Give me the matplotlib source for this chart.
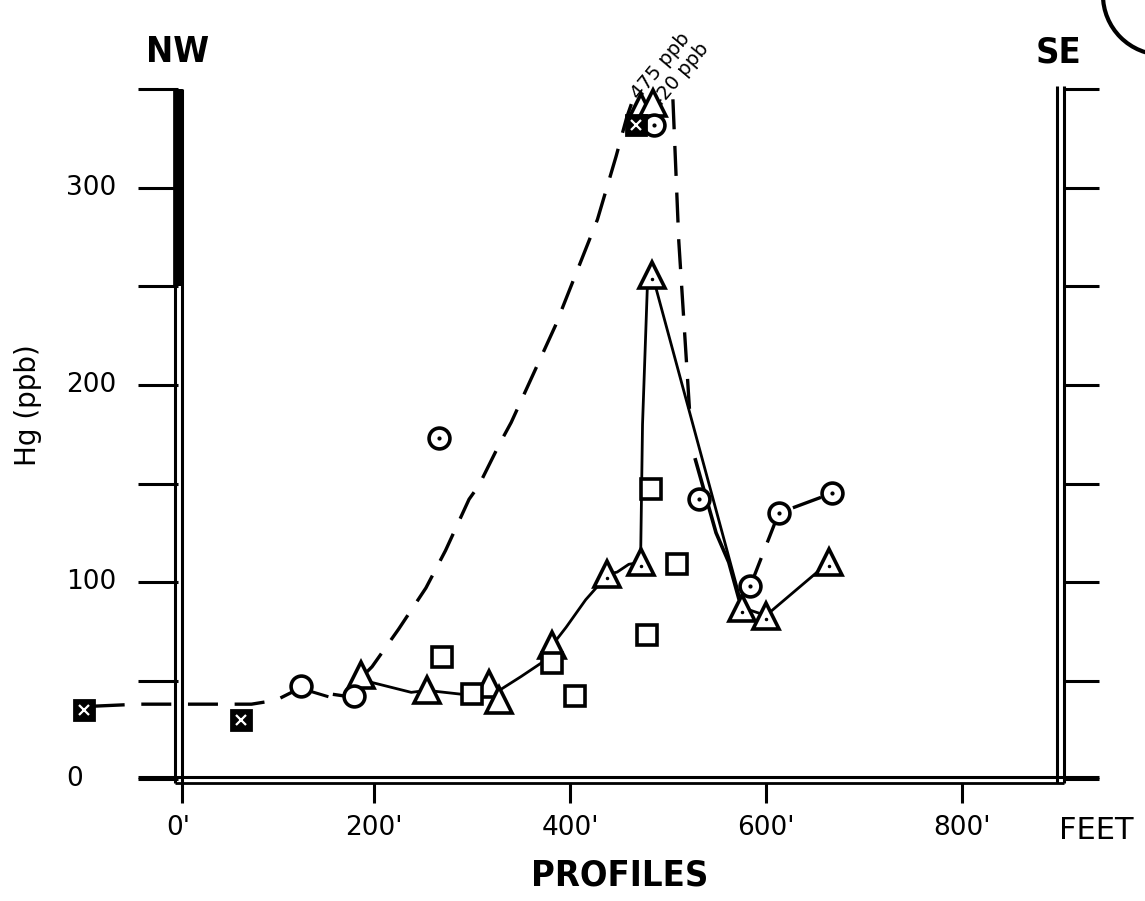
import numpy as np
import matplotlib.pyplot as plt
from matplotlib.patches import Ellipse

# ---- data (x in feet along profile, y in Hg ppb) ----
tri_x = [187, 254, 317, 328, 382, 438, 472, 484, 576, 600, 664]
tri_y = [53, 45, 48, 40, 68, 104, 110, 256, 87, 83, 110]
tri_dot = [False, False, False, False, False, True, True, True, True, True, True]
tri_top_x = [472, 485]          # off-scale (475 / 420 ppb) drawn at the top
tri_top_y = [341, 343]

sq_x = [269, 300, 382, 405, 479, 483, 509]
sq_y = [62, 43, 59, 42, 73, 147, 109]

dotc_x = [266, 486, 532, 584, 613, 667]
dotc_y = [173, 332, 142, 98, 135, 145]

openc_x = [126, 180]
openc_y = [47, 42]

xsq_x = [-96, 64, 467]
xsq_y = [35, 30, 332]

# solid triangle profile
tri_line1_x = [190, 238, 254, 290]
tri_line1_y = [50, 44, 45, 43]
tri_line2_x = [331, 350, 371, 382, 396, 416, 432, 438, 448, 460, 472, 474, 479, 484, 576, 600, 664]
tri_line2_y = [46, 52, 59, 68, 77, 91, 100, 104, 105, 109, 110, 180, 251, 256, 87, 83, 110]

# dashed trend (left part and big rise to the peak)
dash1_x = [-85, -40, 0, 40, 75, 100, 120]
dash1_y = [37, 38, 38, 38, 38, 40, 45]
dash2_x = [188, 198, 225, 253, 273, 297, 307, 328, 340, 385, 428, 447, 458, 465]
dash2_y = [52, 57, 76, 97, 116, 142, 149, 170, 181, 230, 284, 316, 336, 346]
dash3_x = [505, 511, 522]
dash3_y = [345, 273, 187]

# circle series after the peak
circ_solid_x = [528, 549, 562, 572]
circ_solid_y = [162, 125, 110, 92]
circ_dash_x = [584, 613, 667]
circ_dash_y = [98, 135, 145]
tail_x = [132, 152]
tail_y = [45, 42]
tail2_x = [158, 172]
tail2_y = [43, 42]

yticks = [0, 50, 100, 150, 200, 250, 300, 350]
ylabels = ['0', '100', '200', '300']
ylabel_vals = [0, 100, 200, 300]
xticks = [0, 200, 400, 600, 800]
xlabels = ["0'", "200'", "400'", "600'", "800'"]

# ---- figure: one axes over the whole page, hand-drawn frame ----
fig = plt.figure(figsize=(11.45, 9.01), dpi=100)
ax = fig.add_axes([0, 0, 1, 1])
ax.set_xlim(-181.6, 986.7)
ax.set_ylim(-61.9, 395.4)
ax.axis('off')

k = 'black'
# frame (double lines like the original drafting)
ax.plot([-3, -3], [-2, 350], color=k, lw=2.2, solid_capstyle='butt')
ax.plot([4, 4], [-12, 350], color=k, lw=2.2, solid_capstyle='butt')
ax.plot([0.5, 0.5], [250, 350], color=k, lw=7, solid_capstyle='butt')
ax.plot([897, 897], [-2, 352], color=k, lw=2.2, solid_capstyle='butt')
ax.plot([904, 904], [-2, 352], color=k, lw=2.2, solid_capstyle='butt')
ax.plot([-41, 940], [1, 1], color=k, lw=2.2, solid_capstyle='butt')
ax.plot([-3, 904], [-2, -2], color=k, lw=2, solid_capstyle='butt')
ax.hlines(yticks, -41, 0, color=k, lw=2.2)
ax.hlines(yticks, 904, 940, color=k, lw=2.2)
ax.vlines(xticks[1:], -12, -2, color=k, lw=2.2)

for v, t in zip(ylabel_vals, ylabels):
    xx = -105 if t == '0' else -89
    ax.text(xx, v, t, fontsize=19, ha='center', va='center')
for v, t in zip(xticks, xlabels):
    ax.text(v, -25, t, fontsize=19, ha='center', va='center')
ax.text(937, -26, 'FEET', fontsize=22, ha='center', va='center')

bold = dict(fontweight='bold', fontstretch='condensed', family='DejaVu Sans')
ax.text(451, -49, 'PROFILES', fontsize=26, ha='center', va='center', **bold)
ax.text(0, 369, 'NW', fontsize=26, ha='center', va='center', **bold)
ax.text(898, 369, 'SE', fontsize=26, ha='center', va='center', **bold)
ax.text(-153, 190, 'Hg (ppb)', fontsize=20, rotation=90, ha='center', va='center')

ax.text(492, 362, '475 ppb', fontsize=14, rotation=50, ha='center', va='center')
ax.text(512, 357, '420 ppb', fontsize=14, rotation=50, ha='center', va='center')

# ---- lines ----
ax.plot(tri_line1_x, tri_line1_y, color=k, lw=2, zorder=2)
ax.plot(tri_line2_x, tri_line2_y, color=k, lw=2, zorder=2)
for xs, ys in [(dash1_x, dash1_y), (dash2_x, dash2_y), (dash3_x, dash3_y),
               (circ_dash_x, circ_dash_y), (tail2_x, tail2_y)]:
    ax.plot(xs, ys, color=k, lw=2.4, dashes=(9, 5), zorder=2)
ax.plot(circ_solid_x, circ_solid_y, color=k, lw=2.6, zorder=2)
ax.plot(tail_x, tail_y, color=k, lw=2.2, zorder=2)

# ---- markers ----
ax.plot(tri_x, tri_y, '^', ms=19, mfc='white', mec=k, mew=2.6, zorder=3)
ax.plot(tri_top_x, tri_top_y, '^', ms=19, mfc='white', mec=k, mew=2.6, zorder=3)
ax.plot([x for x, d in zip(tri_x, tri_dot) if d],
        [y - 2 for y, d in zip(tri_y, tri_dot) if d], '.', ms=3, color=k, zorder=4)
ax.plot(sq_x, sq_y, 's', ms=15, mfc='white', mec=k, mew=2.6, zorder=3)
ax.plot(dotc_x, dotc_y, 'o', ms=15, mfc='white', mec=k, mew=2.6, zorder=3)
ax.plot(dotc_x, dotc_y, '.', ms=4, color=k, zorder=4)
ax.plot(openc_x, openc_y, 'o', ms=15, mfc='white', mec=k, mew=2.6, zorder=3)
ax.plot(xsq_x, xsq_y, 's', ms=15, mfc=k, mec=k, mew=2, zorder=3)
ax.plot(xsq_x, xsq_y, 'x', ms=7, color='white', mew=1.6, zorder=4)

# page-number circle clipped at the corner
ax.add_patch(Ellipse((1005, 398), 2 * 60 / 0.98, 2 * 60 / 1.97, fill=False,
                     ec=k, lw=3, clip_on=True))

fig.savefig('out.png', dpi=100)
